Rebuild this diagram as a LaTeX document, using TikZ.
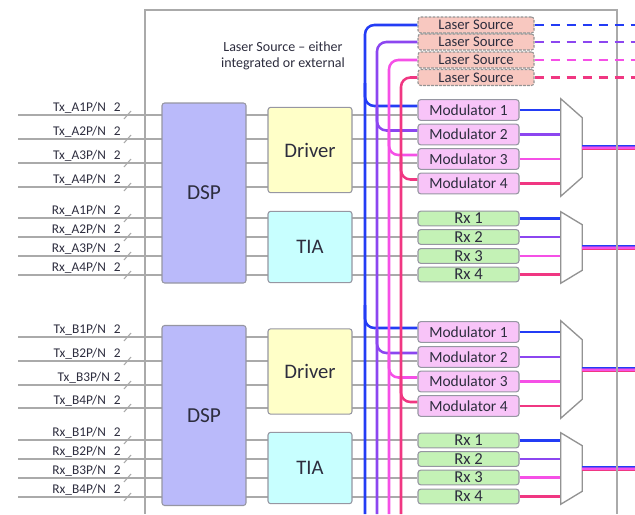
\documentclass[tikz,border=0pt]{standalone}
\usepackage{fontspec}
\setmainfont{Carlito}
\usetikzlibrary{calc}
\pgfdeclarelayer{bg}
\pgfsetlayers{bg,main}
\definecolor{cBlue}{RGB}{35,60,245}
\definecolor{cPurple}{RGB}{140,70,240}
\definecolor{cMag}{RGB}{245,80,230}
\definecolor{cPink}{RGB}{240,55,130}
\definecolor{grayL}{RGB}{170,170,170}
\definecolor{boxB}{RGB}{150,150,162}
\definecolor{dspF}{RGB}{186,186,250}
\definecolor{drvF}{RGB}{255,255,200}
\definecolor{tiaF}{RGB}{200,255,255}
\definecolor{modF}{RGB}{248,196,248}
\definecolor{rxF}{RGB}{196,242,182}
\definecolor{lasF}{RGB}{248,200,192}
\definecolor{txtC}{RGB}{45,45,62}
\begin{document}
\begin{tikzpicture}[x=0.75pt,y=-0.75pt,
  box/.style={draw=boxB,line width=0.8pt,rounded corners=2pt,inner sep=0pt,text=txtC},
  dspbox/.style={box,fill=dspF,minimum width=63pt,minimum height=135pt,font=\fontsize{16}{18}\selectfont},
  drvbox/.style={box,fill=drvF,minimum width=63pt,minimum height=64pt,font=\fontsize{15.5}{18}\selectfont},
  tiabox/.style={box,fill=tiaF,minimum width=63pt,minimum height=53.5pt,font=\fontsize{15.5}{18}\selectfont},
  modbox/.style={box,fill=modF,minimum width=75.75pt,minimum height=15.5pt,font=\fontsize{11.6}{13}\selectfont},
  rxbox/.style={box,fill=rxF,minimum width=75.75pt,minimum height=11pt,font=\fontsize{12.5}{13}\selectfont},
  lasbox/.style={box,fill=lasF,draw=gray!85,dash pattern=on 2pt off 1pt,minimum width=87pt,minimum height=12pt,font=\fontsize{11}{12}\selectfont},
  lbl/.style={anchor=base east,inner sep=0pt,text=txtC,font=\fontsize{10}{11}\selectfont},
  gl/.style={draw=grayL,line width=1.2pt},
  cl/.style={line width=1.9pt},
  muxn/.style={inner sep=0pt,minimum width=15.75pt},
  muxline/.style={draw=gray!85,line width=1pt,fill=white},
  frame/.style={draw=grayL,line width=1pt}
]
\useasboundingbox (0,0) rectangle (635,514);

% blocks
\node[dspbox] (dspA) at (204,193) {DSP};
\node[drvbox] (drvA) at (310,150) {Driver};
\node[tiabox] (tiaA) at (310,247) {TIA};
\node[dspbox] (dspB) at (204,415.5) {DSP};
\node[drvbox] (drvB) at (310,371.5) {Driver};
\node[tiabox] (tiaB) at (310,468) {TIA};

\foreach \i/\y in {1/110,2/134.5,3/159,4/183.5} \node[modbox] (mA\i) at (468.5,\y) {Modulator \i};
\foreach \i/\y in {1/332,2/357,3/381.5,4/406} \node[modbox] (mB\i) at (468.5,\y) {Modulator \i};
\foreach \i/\y in {1/218.5,2/237,3/256,4/274.5} \node[rxbox] (rA\i) at (468.5,\y) {Rx \i};
\foreach \i/\y in {1/440.5,2/459,3/477.5,4/496.5} \node[rxbox] (rB\i) at (468.5,\y) {Rx \i};
\foreach \i/\y in {1/25,2/42,3/60,4/77.5} \node[lasbox] (las\i) at (476,\y) {Laser Source};

\node[font=\fontsize{10.5}{12}\selectfont,text=txtC,align=center] (ttl) at (283,56) {Laser Source -- either\\integrated or external};

% muxes
\node[muxn,minimum height=72.75pt] (muxTA) at (571.5,147.5) {};
\node[muxn,minimum height=53.25pt] (muxRA) at (571.5,247.5) {};
\node[muxn,minimum height=72.75pt] (muxTB) at (571.5,369.5) {};
\node[muxn,minimum height=53.25pt] (muxRB) at (571.5,468.5) {};
\coordinate (oTA) at (635,147.5);
\coordinate (oRA) at (635,247.5);
\coordinate (oTB) at (635,369.5);
\coordinate (oRB) at (635,468.5);

% input rows
\foreach \i/\y in {1/115,2/139,3/163,4/187} {
  \coordinate (tA\i) at (18,\y);
  \node[lbl] (ltA\i) at (121,\y-4) {Tx\_A\i P/N\hspace{6pt}2};
  \draw[grayL,line width=0.8pt] (124,\y+4) -- (131,\y-4);
}
\foreach \i/\y in {1/218,2/237,3/256,4/275} {
  \coordinate (rxA\i) at (18,\y);
  \node[lbl] (lrA\i) at (121,\y-4) {Rx\_A\i P/N\hspace{6pt}2};
  \draw[grayL,line width=0.8pt] (124,\y+4) -- (131,\y-4);
}
\foreach \i/\y/\gp in {1/337/6pt,2/361/6pt,3/385/3pt,4/408/6pt} {
  \coordinate (tB\i) at (18,\y);
  \node[lbl] (ltB\i) at (121,\y-4) {Tx\_B\i P/N\hspace{\gp}2};
  \draw[grayL,line width=0.8pt] (124,\y+4) -- (131,\y-4);
}
\foreach \i/\y in {1/440,2/459,3/478,4/497} {
  \coordinate (rxB\i) at (18,\y);
  \node[lbl] (lrB\i) at (121,\y-4) {Rx\_B\i P/N\hspace{6pt}2};
  \draw[grayL,line width=0.8pt] (124,\y+4) -- (131,\y-4);
}

\begin{pgfonlayer}{bg}
  \draw[frame] (145,514) -- (145,10) -- (617,10) -- (617,514);
  \foreach \i in {1,2,3,4} {
    \draw[gl] (tA\i) -- (tA\i -| mA\i.west);
    \draw[gl] (rxA\i) -- (rxA\i -| rA\i.west);
    \draw[gl] (tB\i) -- (tB\i -| mB\i.west);
    \draw[gl] (rxB\i) -- (rxB\i -| rB\i.west);
  }
\end{pgfonlayer}

% coloured buses and branches
\foreach \i/\c/\x in {1/cBlue/365,2/cPurple/377,3/cMag/389,4/cPink/401} {
  \coordinate (bus\i) at (\x,514);
  \coordinate (lE\i) at (635,0);
  \draw[cl,\c,rounded corners=7pt] ([yshift=3pt]mA\i.west) -| ($(bus\i |- mA\i.north)+(0,-16)$);
  \draw[cl,\c,rounded corners=7pt] ([yshift=3pt]mB\i.west) -| ($(bus\i |- mB\i.north)+(0,-16)$);
  \draw[cl,\c,rounded corners=7pt] (las\i.west) -| (bus\i);
  \draw[cl,\c,dash pattern=on 7pt off 5pt] (las\i.east) -- (las\i.east -| lE\i);
  \draw[cl,\c] (mA\i.east) -- (mA\i.east -| muxTA.west);
  \draw[cl,\c] (mB\i.east) -- (mB\i.east -| muxTB.west);
  \draw[cl,\c] (rA\i.east) -- (rA\i.east -| muxRA.west);
  \draw[cl,\c] (rB\i.east) -- (rB\i.east -| muxRB.west);
}

% mux shapes
\foreach \m/\s in {muxTA/14.25pt,muxRA/9.75pt,muxTB/14.25pt,muxRB/9.75pt}
  \draw[muxline] (\m.north west) -- ([yshift=-\s]\m.north east) -- ([yshift=\s]\m.south east) -- (\m.south west) -- cycle;

% striped outputs
\foreach \m/\o in {muxTA/oTA,muxRA/oRA,muxTB/oTB,muxRB/oRB}
  \foreach \c/\s in {cBlue/1.5pt,cPurple/0.5pt,cMag/-0.5pt,cPink/-1.5pt}
    \draw[\c,line width=1.1pt] ([yshift=\s]\m.east) -- ([yshift=\s]\o);

\draw[frame] (617,140) -- (617,155) (617,240) -- (617,255) (617,362) -- (617,377) (617,461) -- (617,476);
\end{tikzpicture}
\end{document}
